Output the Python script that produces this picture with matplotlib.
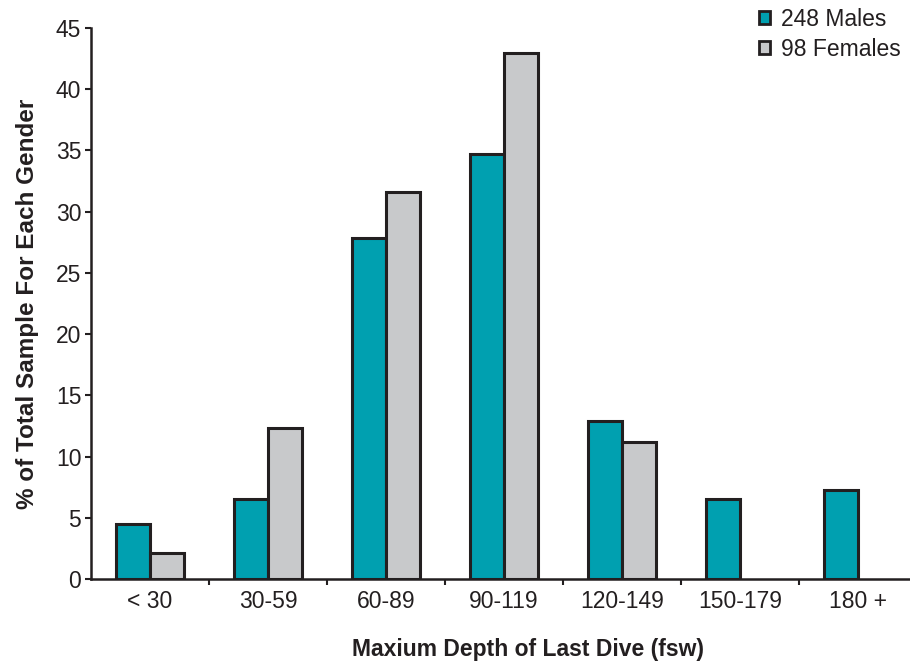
import matplotlib
matplotlib.use("Agg")
import matplotlib.pyplot as plt
import numpy as np

plt.rcParams['font.family'] = ['Liberation Sans', 'DejaVu Sans']

categories = ["< 30", "30-59", "60-89", "90-119", "120-149", "150-179", "180 +"]
males = [4.5, 6.5, 27.8, 34.7, 12.9, 6.5, 7.3]
females = [2.1, 12.3, 31.6, 42.9, 11.2, 0, 0]
series_labels = ["248 Males", "98 Females"]

teal = "#00A0B0"
grey = "#C8C9CB"
edge = "#231F20"
fs = 16.5

fig = plt.figure(figsize=(9.10, 6.61), dpi=100)
ax = fig.add_axes([0.1, 0.124, 0.908, 0.834])

x = np.arange(len(categories))
w = 0.29
ax.bar(x - w/2, males, w, color=teal, edgecolor=edge, linewidth=2.2, label=series_labels[0], zorder=3)
fb = ax.bar(x + w/2, females, w, color=grey, edgecolor=edge, linewidth=2.2, label=series_labels[1], zorder=3)
for b, v in zip(fb, females):
    if v == 0:
        b.set_visible(False)

ax.set_xlim(-0.5, 6.5)
ax.set_ylim(0, 45)
ax.set_yticks(np.arange(0, 46, 5))
ax.tick_params(axis='y', labelsize=fs, length=4, width=1.5, direction='out', colors=edge, labelcolor=edge, pad=3)
ax.set_xticks(x)
ax.set_xticklabels(categories)
ax.set_xticks(np.arange(0.5, 6.5, 1), minor=True)
ax.tick_params(axis='x', which='major', length=0, labelsize=fs, pad=8, labelcolor=edge)
ax.tick_params(axis='x', which='minor', length=4, width=1.5, direction='out', colors=edge)

for s in ['top', 'right']:
    ax.spines[s].set_visible(False)
for s in ['left', 'bottom']:
    ax.spines[s].set_linewidth(1.8)
    ax.spines[s].set_color(edge)

ax.set_ylabel("% of Total Sample For Each Gender", fontsize=17.5, fontweight='bold', labelpad=12, color=edge)
ax.set_xlabel("Maxium Depth of Last Dive (fsw)", fontsize=fs, fontweight='bold', labelpad=18, color=edge)
ax.xaxis.label.set_x(0.529)

leg = ax.legend(loc='upper right', bbox_to_anchor=(1.0, 1.065), frameon=False, fontsize=fs,
                handlelength=0.5, handleheight=0.5, handletextpad=0.5, labelspacing=0.3,
                borderpad=0.2)
for t in leg.get_texts():
    t.set_color(edge)
for h in leg.legend_handles:
    h.set_linewidth(2)

fig.savefig("out.png", dpi=100)
